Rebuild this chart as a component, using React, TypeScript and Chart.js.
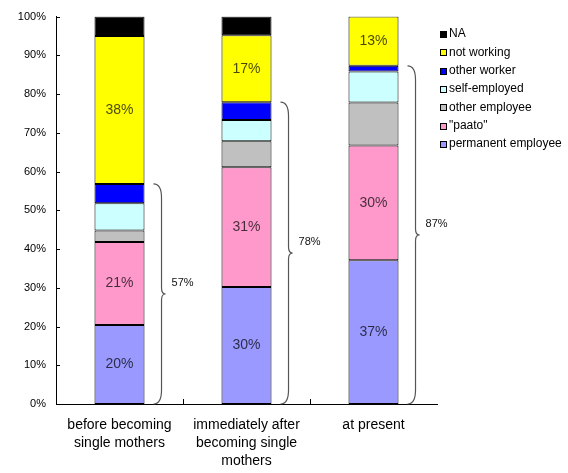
import React, { useEffect, useRef } from 'react';
import { Chart, registerables } from 'chart.js';

Chart.register(...registerables);

const categories: string[][] = [
  ['before becoming', 'single mothers'],
  ['immediately after', 'becoming single', 'mothers'],
  ['at present'],
];
const seriesNames = ['permanent employee', '"paato"', 'other employee', 'self-employed', 'other worker', 'not working', 'NA'];
const permanent = [20.4, 30.2, 37.1];
const paato = [21.4, 30.9, 29.6];
const otherEmployee = [3.0, 6.7, 11.1];
const selfEmployed = [7.0, 5.5, 8.0];
const otherWorker = [5.0, 4.6, 1.5];
const notWorking = [38.2, 17.3, 12.7];
const na = [5.0, 4.8, 0];
const yTickValues = [0, 10, 20, 30, 40, 50, 60, 70, 80, 90, 100];
const seriesColors = ['#9999FF', '#FF99CC', '#C0C0C0', '#CCFFFF', '#0000FF', '#FFFF00', '#000000'];
const labelledSeries = [0, 1, 5];
const braceSeries = [0, 1, 2, 3, 4];

const FONT = '"Liberation Sans", Arial, sans-serif';

const overlayPlugin = {
  id: 'overlay',
  afterDatasetsDraw(chart: any) {
    const ctx = chart.ctx;
    const x = chart.scales.x;
    const y = chart.scales.y;
    const area = chart.chartArea;
    ctx.save();

    // value labels inside segments
    ctx.font = `14px ${FONT}`;
    ctx.textAlign = 'center';
    ctx.textBaseline = 'middle';
    ctx.fillStyle = 'rgba(0,0,0,0.72)';
    labelledSeries.forEach((di) => {
      const meta = chart.getDatasetMeta(di);
      meta.data.forEach((el: any, i: number) => {
        const v = chart.data.datasets[di].data[i] as number;
        if (!v) return;
        const cy = (el.y + el.base) / 2;
        ctx.fillText(Math.round(v) + '%', el.x, cy);
      });
    });

    // braces
    const baseMeta = chart.getDatasetMeta(0);
    baseMeta.data.forEach((el: any, i: number) => {
      let total = 0;
      braceSeries.forEach((di) => (total += chart.data.datasets[di].data[i] as number));
      const right = el.x + el.width / 2;
      const yTop = y.getPixelForValue(total);
      const yBot = y.getPixelForValue(0);
      const mid = (yTop + yBot) / 2;
      const xl = right + 9;
      const xs = right + 17;
      const xt = right + 21;
      const r = 14;
      const r2 = 6;
      ctx.beginPath();
      ctx.strokeStyle = '#555';
      ctx.lineWidth = 1.2;
      ctx.moveTo(xl, yTop);
      ctx.quadraticCurveTo(xs, yTop, xs, yTop + r);
      ctx.lineTo(xs, mid - r2);
      ctx.quadraticCurveTo(xs, mid, xt, mid);
      ctx.quadraticCurveTo(xs, mid, xs, mid + r2);
      ctx.lineTo(xs, yBot - r);
      ctx.quadraticCurveTo(xs, yBot, xl, yBot);
      ctx.stroke();
      ctx.font = `11px ${FONT}`;
      ctx.textAlign = 'left';
      ctx.fillStyle = '#111';
      ctx.fillText(Math.round(total) + '%', xt + 6, mid - 11);
    });

    // tick marks (inside)
    ctx.strokeStyle = '#000';
    ctx.lineWidth = 1;
    ctx.beginPath();
    yTickValues.forEach((v) => {
      const py = Math.round(y.getPixelForValue(v)) + 0.5;
      ctx.moveTo(area.left, py);
      ctx.lineTo(area.left + 4, py);
    });
    for (let i = 0; i < categories.length - 1; i++) {
      const px = Math.round((x.getPixelForValue(i) + x.getPixelForValue(i + 1)) / 2) + 0.5;
      ctx.moveTo(px, area.bottom);
      ctx.lineTo(px, area.bottom - 5);
    }
    ctx.stroke();

    // legend
    ctx.font = `12px ${FONT}`;
    ctx.textAlign = 'left';
    ctx.textBaseline = 'middle';
    for (let k = 0; k < seriesNames.length; k++) {
      const di = seriesNames.length - 1 - k;
      const cy = 34 + k * 18.3;
      ctx.fillStyle = seriesColors[di];
      ctx.fillRect(440, Math.round(cy - 3), 6, 6);
      ctx.strokeStyle = '#000';
      ctx.strokeRect(440.5, Math.round(cy - 3) + 0.5, 6, 6);
      ctx.fillStyle = '#000';
      ctx.fillText(seriesNames[di], 449, cy);
    }
    ctx.restore();
  },
};

export default function App() {
  const ref = useRef<HTMLCanvasElement | null>(null);
  useEffect(() => {
    if (!ref.current) return;
    const values = [permanent, paato, otherEmployee, selfEmployed, otherWorker, notWorking, na];
    const chart = new Chart(ref.current, {
      type: 'bar',
      data: {
        labels: categories,
        datasets: values.map((d, i) => ({
          label: seriesNames[i],
          data: d,
          backgroundColor: seriesColors[i],
          borderColor: '#000',
          borderWidth: 1,
          borderSkipped: false,
          categoryPercentage: 1,
          barPercentage: 0.394,
        })),
      },
      options: {
        animation: false,
        responsive: false,
        maintainAspectRatio: false,
        layout: { padding: { top: 12, right: 131, bottom: 0, left: 0 } },
        plugins: { legend: { display: false }, tooltip: { enabled: false } },
        scales: {
          x: {
            stacked: true,
            grid: { display: false, drawTicks: false },
            border: { display: true, color: '#000', width: 1 },
            ticks: {
              color: '#000',
              padding: 12,
              font: { family: FONT, size: 14, lineHeight: 18 / 14 },
              maxRotation: 0,
              autoSkip: false,
            },
            afterFit: (s: any) => {
              s.height = 69;
            },
          },
          y: {
            stacked: true,
            min: 0,
            max: 100,
            grid: { display: false, drawTicks: false },
            border: { display: true, color: '#000', width: 1 },
            ticks: {
              stepSize: 10,
              color: '#000',
              padding: 10,
              font: { family: FONT, size: 11 },
              callback: (v: any) => v + '%',
            },
            afterFit: (s: any) => {
              s.width = 56;
            },
          },
        },
      },
      plugins: [overlayPlugin],
    });
    return () => chart.destroy();
  }, []);
  return (
    <div style={{ position: 'fixed', left: 0, top: 0, width: 568, height: 473, background: '#fff' }}>
      <canvas ref={ref} width={568} height={473} style={{ width: 568, height: 473 }} />
    </div>
  );
}
